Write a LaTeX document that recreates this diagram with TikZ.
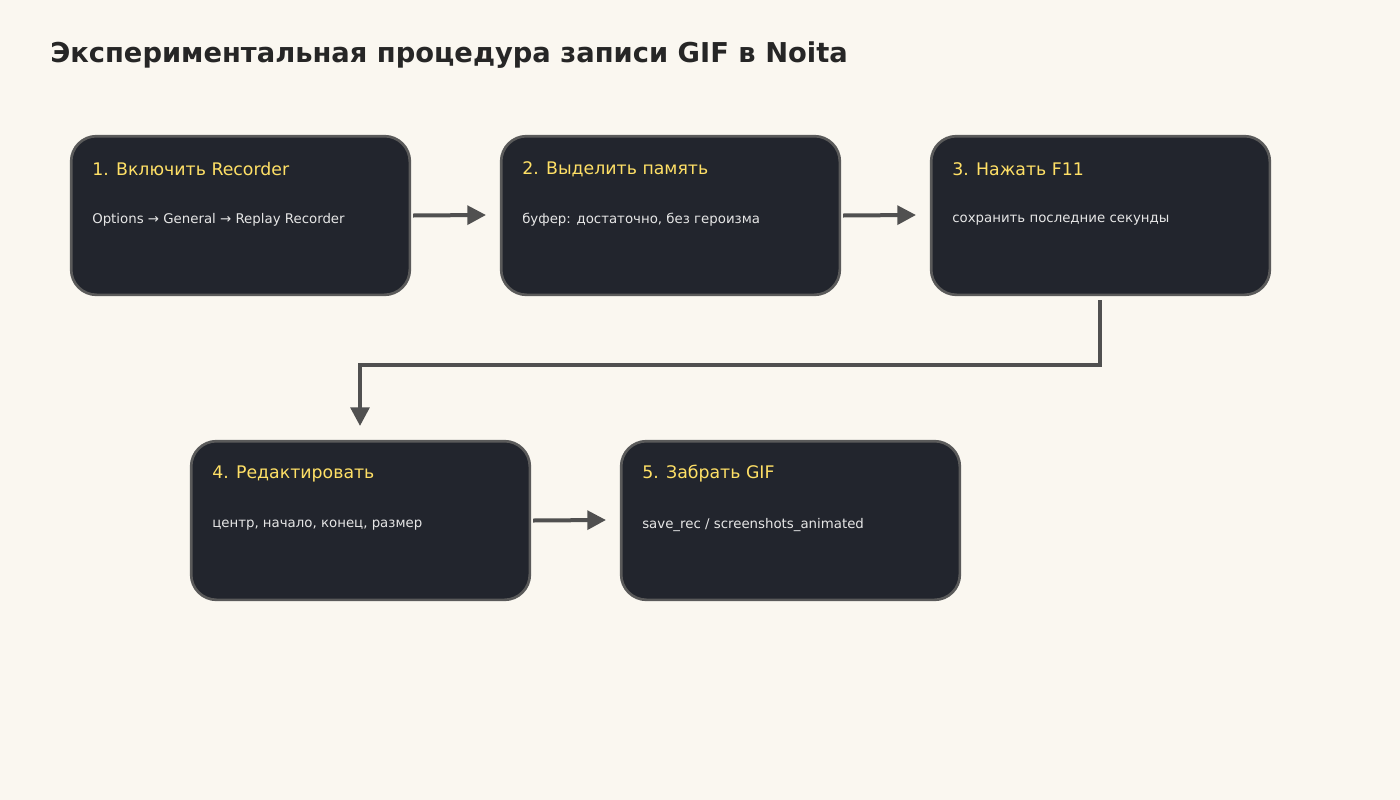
\documentclass[tikz,border=0pt]{standalone}
\usepackage{fontspec}
\setmainfont{DejaVu Sans}
\usetikzlibrary{arrows.meta}
\definecolor{bg}{HTML}{FAF7F0}
\definecolor{boxfill}{HTML}{22252D}
\definecolor{boxline}{HTML}{5A5A5A}
\definecolor{ttl}{HTML}{FFE066}
\definecolor{sub}{HTML}{E6E6E6}
\definecolor{arr}{HTML}{505050}
\tikzset{
  stepbox/.style={draw=boxline,line width=2pt,fill=boxfill,rounded corners=19pt,minimum width=254pt,minimum height=119pt,inner sep=0pt},
  boxtitle/.style={anchor=west,text=ttl,font=\fontsize{13}{15}\selectfont,inner sep=0pt},
  boxsub/.style={anchor=west,text=sub,font=\fontsize{10}{12}\selectfont,inner sep=0pt},
  conn/.style={draw=arr,line width=3pt,-{Triangle[length=14pt,width=14pt]}}
}
\begin{document}
\begin{tikzpicture}[x=0.75pt,y=-0.75pt]
\fill[bg] (0,0) rectangle (1400,800);
\node[anchor=base west,inner sep=0pt,text=black!85,font=\fontsize{20.5}{24}\selectfont\bfseries] (title) at (50,62) {Экспериментальная процедура записи GIF в Noita};
\node[stepbox] (b1) at (240.5,215.5) {};
\node[stepbox] (b2) at (670.5,215.5) {};
\node[stepbox] (b3) at (1100.5,215.5) {};
\node[stepbox] (b4) at (360.5,520.5) {};
\node[stepbox] (b5) at (790.5,520.5) {};
\node[boxtitle] (t1) at (92,169) {1. Включить Recorder};
\node[boxsub] (s1) at (92,220) {Options → General → Replay Recorder};
\node[boxtitle] (t2) at (522,169) {2. Выделить память};
\node[boxsub] (s2) at (522,220) {буфер: достаточно, без героизма};
\node[boxtitle] (t3) at (952,169) {3. Нажать F11};
\node[boxsub] (s3) at (952,220) {сохранить последние секунды};
\node[boxtitle] (t4) at (212,474) {4. Редактировать};
\node[boxsub] (s4) at (212,525) {центр, начало, конец, размер};
\node[boxtitle] (t5) at (642,474) {5. Забрать GIF};
\node[boxsub] (s5) at (642,525) {save\_rec / screenshots\_animated};
\coordinate (a1e) at (486,215);
\coordinate (a2e) at (916,215);
\coordinate (a4e) at (606,520);
\coordinate (c3s) at (1100,300);
\coordinate (c4e) at (360,426);
\draw[conn] (b1.east) ++(2,0) -- (a1e);
\draw[conn] (b2.east) ++(2,0) -- (a2e);
\draw[conn] (b4.east) ++(2,0) -- (a4e);
\draw[conn] (c3s) -- (1100,365) -- (360,365) -- (c4e);
\end{tikzpicture}
\end{document}
